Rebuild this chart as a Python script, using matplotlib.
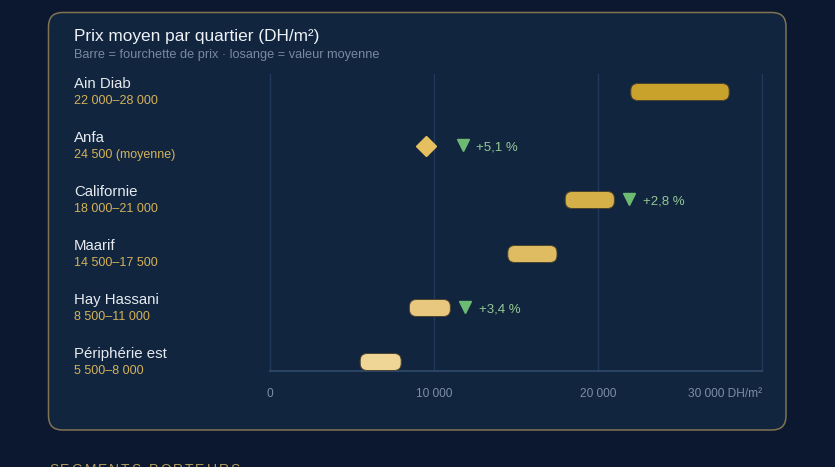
import matplotlib
matplotlib.use('Agg')
import matplotlib.pyplot as plt
from matplotlib.patches import FancyBboxPatch
from matplotlib.transforms import IdentityTransform, offset_copy

plt.rcParams['font.family'] = ['Liberation Sans', 'DejaVu Sans']

# ---------------- data ----------------
quartiers = ["Ain Diab", "Anfa", "Californie", "Maarif", "Hay Hassani", "Périphérie est"]
range_labels = ["22 000–28 000", "24 500 (moyenne)", "18 000–21 000",
                "14 500–17 500", "8 500–11 000", "5 500–8 000"]
prix_min = [22000, None, 18000, 14500, 8500, 5500]
prix_max = [28000, None, 21000, 17500, 11000, 8000]
prix_moyen = [None, 9500, None, None, None, None]
variation = [None, "+5,1 %", "+2,8 %", None, "+3,4 %", None]
xticks = [0, 10000, 20000, 30000]
xtick_labels = ["0", "10 000", "20 000", "30 000 DH/m²"]
title = "Prix moyen par quartier (DH/m²)"
subtitle = "Barre = fourchette de prix · losange = valeur moyenne"
footer = "SEGMENTS PORTEURS"

bar_colors = ["#c9a22c", "#e6bf5e", "#d5af48", "#dfbc62", "#e8c77e", "#efd696"]

# ---------------- figure ----------------
W, H = 835, 467
fig = plt.figure(figsize=(W / 100, H / 100), dpi=100, facecolor="#0b1830")

card = FancyBboxPatch((48.5, H - 430), 737.5, 417.5,
                      boxstyle="round,pad=0,rounding_size=14",
                      transform=IdentityTransform(),
                      facecolor="#11253f", edgecolor="#807350", linewidth=1.1,
                      zorder=-5)
fig.add_artist(card)

def px(x, y):
    return x / W, 1 - y / H

fig.text(*px(74, 40.7), title, color="#eef2f6", fontsize=12.4, va="baseline", ha="left")
fig.text(*px(74, 58.3), subtitle, color="#7a899e", fontsize=9.2, va="baseline", ha="left")

# axes
ax_left, ax_right, ax_top, ax_bot = 270, 762, 74, 371
ax = fig.add_axes([ax_left / W, 1 - ax_bot / H, (ax_right - ax_left) / W, (ax_bot - ax_top) / H])
ax.set_facecolor("none")
n = len(quartiers)
row_px = 54.0
ax.set_xlim(0, 30000)
ax.set_ylim(n - 1 + 9 / row_px, -18 / row_px)
for s in ax.spines.values():
    s.set_visible(False)

for xt in xticks:
    ax.axvline(xt, color="#21395a", lw=1, zorder=1, clip_on=False)
ax.axhline(n - 1 + 9 / row_px, color="#2d4566", lw=1.4, zorder=1, clip_on=False)

ax.set_yticks([])
ax.set_xticks(xticks)
ax.set_xticklabels(xtick_labels, color="#7f8ea3", fontsize=8.6)
ax.tick_params(axis="x", length=0, pad=12)
ax.get_xticklabels()[-1].set_ha("right")

# rounding geometry
x_per_px = 30000 / (ax_right - ax_left)
y_per_px = 1 / row_px
aspect = y_per_px / x_per_px
bar_h = 17 * y_per_px

for i in range(n):
    # labels at left
    ax.annotate(quartiers[i], xy=(74, i), xycoords=("figure pixels", "data"),
                xytext=(0, 3.1), textcoords="offset points",
                color="#e6eaef", fontsize=10.8, va="baseline", ha="left",
                annotation_clip=False)
    ax.annotate(range_labels[i], xy=(74, i), xycoords=("figure pixels", "data"),
                xytext=(0, -8.6), textcoords="offset points",
                color="#d4b25a", fontsize=9, va="baseline", ha="left",
                annotation_clip=False)

    if prix_min[i] is not None:
        lo, hi = prix_min[i], prix_max[i]
        bar = FancyBboxPatch((lo, i - bar_h / 2), hi - lo, bar_h,
                             boxstyle=f"round,pad=0,rounding_size={7 * x_per_px}",
                             mutation_aspect=aspect,
                             facecolor=bar_colors[i], edgecolor="#4a4330",
                             linewidth=0.7, zorder=3)
        ax.add_patch(bar)
        anchor = hi
        off = 15
    else:
        ax.plot(prix_moyen[i], i, marker="D", ms=10, color=bar_colors[i],
                linestyle="none", zorder=3)
        anchor = prix_moyen[i]
        off = 37

    if variation[i] is not None:
        tr = offset_copy(ax.transData, fig=fig, x=off, y=1, units="dots")
        ax.plot(anchor, i, marker="v", ms=8.4, color="#6dbb73",
                linestyle="none", transform=tr, zorder=3)
        tr2 = offset_copy(ax.transData, fig=fig, x=off + 13.5, y=-1.5, units="dots")
        ax.text(anchor, i, variation[i], transform=tr2, color="#93c995",
                fontsize=9.5, va="center", ha="left")

# footer with letter spacing
renderer = fig.canvas.get_renderer()
x0 = 49.0
spacing = 2.0
for ch in footer:
    t = fig.text(x0 / W, (H - 474) / H, ch, color="#b09a5c", fontsize=10,
                 va="baseline", ha="left")
    w = t.get_window_extent(renderer=renderer).width
    if ch == " ":
        w = 4.0
    x0 += w + spacing

fig.savefig("out.png", dpi=100, facecolor=fig.get_facecolor())
